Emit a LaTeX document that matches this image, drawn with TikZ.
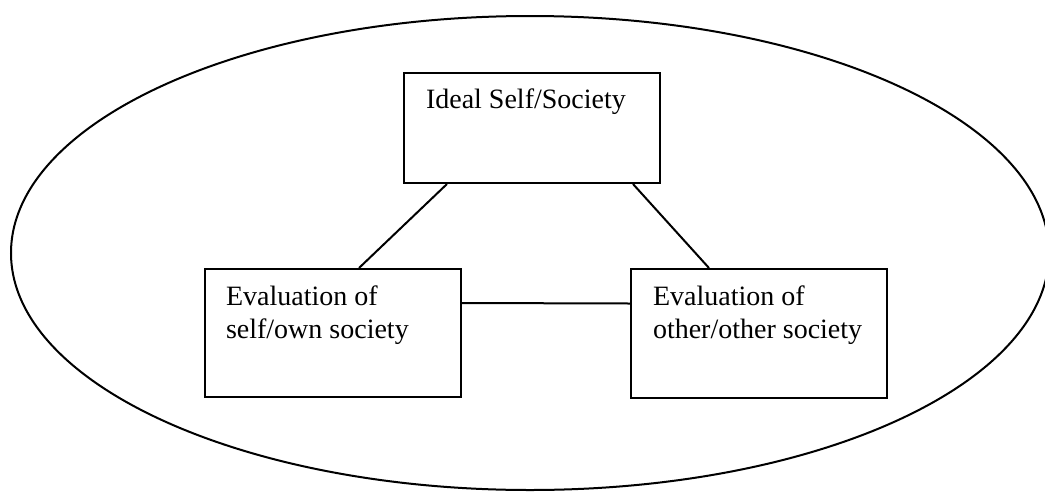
\documentclass[tikz,border=0pt]{standalone}
\usepackage{fontspec}
\setmainfont{Liberation Serif}
\usepackage{tikz}
\usetikzlibrary{calc}

\begin{document}
\begin{tikzpicture}[x=1pt,y=-1pt,line width=2pt,
  box/.style={draw,rectangle,inner sep=0pt,minimum width=256pt},
  boxtext/.style={anchor=north west,align=left,inner sep=0pt,font=\fontsize{28}{33}\selectfont}]
\useasboundingbox (0,0) rectangle (1045,491);
\draw (530,253) ellipse [x radius=519, y radius=237];

\node[box,minimum height=110pt] (ideal) at (532,128) {};
\node[box,minimum height=128pt] (own) at (333,333) {};
\node[box,minimum height=129pt] (other) at (759,333.5) {};

\node[boxtext] (idealtxt) at ([xshift=22pt,yshift=-16pt]ideal.north west) {Ideal Self/Society};
\node[boxtext] (owntxt) at ([xshift=21pt,yshift=-17pt]own.north west) {Evaluation of\\self/own society};
\node[boxtext] (othertxt) at ([xshift=22pt,yshift=-17pt]other.north west) {Evaluation of\\other/other society};

\draw ([xshift=44pt]ideal.south west) -- ([xshift=155pt]own.north west);
\draw ([xshift=-28pt]ideal.south east) -- ([xshift=79pt]other.north west);
\draw ([yshift=30pt]own.east) -- ([yshift=30pt]other.west);
\end{tikzpicture}
\end{document}
